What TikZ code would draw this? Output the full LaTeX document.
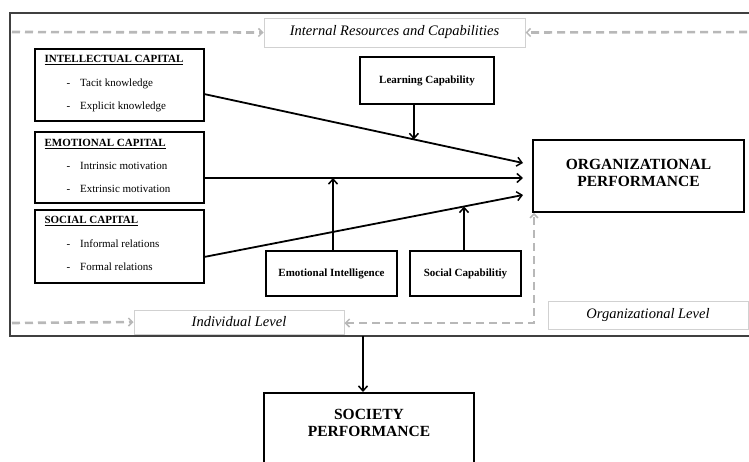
\documentclass[tikz,border=0pt]{standalone}
\usepackage{fontspec}
\setmainfont{Liberation Serif}
\usetikzlibrary{arrows.meta,calc}
\begin{document}
\begin{tikzpicture}[x=1pt,y=-1pt,
  box/.style={draw=black,line width=1.8pt,fill=white},
  lbox/.style={draw=black!18,line width=1pt,fill=white},
  conn/.style={line width=1.8pt,-{Straight Barb[length=5pt,width=9pt,line width=1.5pt]}},
  gdash/.style={draw=black!28,line width=2.6pt,dash pattern=on 8pt off 5pt,-{Straight Barb[length=4pt,width=8pt,line width=1.5pt]}},
  gdash2/.style={draw=black!28,line width=2.6pt,dash pattern=on 8pt off 5pt,{Straight Barb[length=4pt,width=8pt,line width=1.5pt]}-{Straight Barb[length=4pt,width=8pt,line width=1.5pt]}},
  ttl/.style={font=\bfseries\fontsize{11}{13}\selectfont,anchor=west},
  itm/.style={font=\fontsize{11}{13}\selectfont,anchor=west},
  mod/.style={box,font=\bfseries\fontsize{11}{13}\selectfont},
  big/.style={align=center,font=\bfseries\fontsize{15.5}{17}\selectfont},
  lvl/.style={font=\itshape\fontsize{14.5}{16}\selectfont}]
\useasboundingbox (0,0) rectangle (749,461);
\clip (0,0) rectangle (749,461);
% outer frame
\draw[line width=1.2pt,draw=black!75] (10,13) rectangle (770,336);
% level boxes
\node[lbox,minimum width=261pt,minimum height=29pt] (irc) at (394.5,32.5) {};
\node[lvl] at (irc) {Internal Resources and Capabilities};
\node[lbox,minimum width=210pt,minimum height=24pt] (ind) at (239,322) {};
\node[lvl] at (ind) {Individual Level};
\node[lbox,minimum width=200pt,minimum height=28pt] (orgl) at (648,315) {};
\node[lvl] at (orgl) {Organizational Level};
% capital boxes
\node[box,minimum width=169pt,minimum height=72pt] (ic) at (119.5,85) {};
\node[ttl] at (41,60) {\underline{INTELLECTUAL CAPITAL}};
\node[itm] at (63,84) {-\hspace{10pt}Tacit knowledge};
\node[itm] at (63,107) {-\hspace{10pt}Explicit knowledge};
\node[box,minimum width=169pt,minimum height=71pt] (ec) at (119.5,167.5) {};
\node[ttl] at (41,144) {\underline{EMOTIONAL CAPITAL}};
\node[itm] at (63,166) {-\hspace{10pt}Intrinsic motivation};
\node[itm] at (63,189) {-\hspace{10pt}Extrinsic motivation};
\node[box,minimum width=169pt,minimum height=73pt] (sc) at (119.5,246.5) {};
\node[ttl] at (41,221) {\underline{SOCIAL CAPITAL}};
\node[itm] at (63,244) {-\hspace{10pt}Informal relations};
\node[itm] at (63,267) {-\hspace{10pt}Formal relations};
% moderators
\node[mod,minimum width=134pt,minimum height=47pt] (lc) at (427,80.5) {Learning Capability};
\node[mod,minimum width=131pt,minimum height=45pt] (ei) at (331.5,273.5) {Emotional Intelligence};
\node[mod,minimum width=111pt,minimum height=45pt] (scap) at (465.5,273.5) {Social Capabilitiy};
% organizational performance
\node[box,big,minimum width=211pt,minimum height=72pt] (op) at (638.5,176) {};
\node[big] at (638.5,173) {ORGANIZATIONAL\\PERFORMANCE};
% society performance
\node[box,minimum width=210pt,minimum height=90pt,anchor=north] (sp) at (369,392) {};
\node[big] at (369,422.5) {SOCIETY\\PERFORMANCE};
% gray dashed arrows
\coordinate (tl) at (12,32);
\coordinate (tr) at (760,32);
\coordinate (bl) at (12,323);
\coordinate (corner) at (534,323);
\draw[gdash] (tl) -- (irc.west);
\draw[gdash] (tr) -- (irc.east);
\draw[gdash] (bl) -- (ind.west);
\draw[gdash2] (ind.east |- corner) -- (corner) -- (corner |- op.south);
% main arrows
\coordinate (t1) at (523,163);
\coordinate (t2) at (523,178);
\coordinate (t3) at (523,195);
\coordinate (s1) at (204,94);
\coordinate (s3) at (204,257);
\draw[conn] (s1) -- (t1);
\draw[conn] (ec.east |- t2) -- (t2);
\draw[conn] (s3) -- (t3);
\coordinate (m1) at ($(s1)!0.658!(t1)$);
\coordinate (m3) at ($(s3)!0.815!(t3)$);
\draw[conn] (lc.south -| m1) -- (m1);
\coordinate (m2) at (333,0);
\draw[conn] (ei.north -| m2) -- (m2 |- t2);
\coordinate (m3b) at (464,0);
\draw[conn] (scap.north -| m3b) -- (m3b |- m3);
% frame to society
\coordinate (fb) at (363,336);
\draw[conn] (fb) -- (sp.north -| fb);
\end{tikzpicture}
\end{document}
